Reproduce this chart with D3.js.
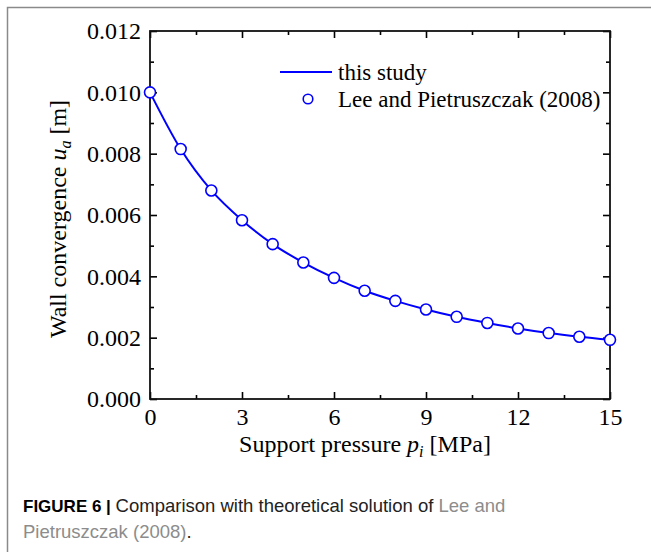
<!DOCTYPE html>
<html>
<head>
<meta charset="utf-8">
<script src="https://cdn.jsdelivr.net/npm/d3@7"></script>
<style>
  body { margin: 0; background: #fff; }
  svg { display: block; }
</style>
</head>
<body>
<div id="chart"></div>
<script>
// support pressure (MPa) and wall convergence (m)
const pressure = [0, 1, 2, 3, 4, 5, 6, 7, 8, 9, 10, 11, 12, 13, 14, 15];
const studyValues = [0.0100, 0.00815, 0.0068, 0.00583, 0.00505, 0.00445, 0.00395, 0.00353,
  0.0032, 0.00292, 0.00268, 0.00248, 0.0023, 0.00215, 0.00203, 0.00193];
const leeValues = [0.0100, 0.00815, 0.0068, 0.00583, 0.00505, 0.00445, 0.00395, 0.00353,
  0.0032, 0.00292, 0.00268, 0.00248, 0.0023, 0.00215, 0.00203, 0.00193];
const xTicks = [0, 3, 6, 9, 12, 15];
const yTicks = [0, 0.002, 0.004, 0.006, 0.008, 0.010, 0.012];
const legendLabels = ['this study', 'Lee and Pietruszczak (2008)'];

const width = 651, height = 552;
const plot = { left: 150, right: 610, top: 31, bottom: 399 };
const blue = '#0000ff';
const serif = '"Liberation Serif", "Times New Roman", serif';

const svg = d3.select('#chart').append('svg')
  .attr('width', width)
  .attr('height', height);

// figure frame (open at right/bottom like the cropped page)
svg.append('path')
  .attr('d', `M7.5,${height} V7.5 H${width}`)
  .attr('fill', 'none')
  .attr('stroke', '#8a8a8a')
  .attr('stroke-width', 1.5);

const x = d3.scaleLinear().domain([0, 15]).range([plot.left, plot.right]);
const y = d3.scaleLinear().domain([0, 0.012]).range([plot.bottom, plot.top]);

const tickLen = 7, minorLen = 4;
const xMinor = d3.range(1.5, 15, 3);
const yMinor = d3.range(0.001, 0.012, 0.002);

const axisStyle = g => {
  g.select('.domain').remove();
  g.selectAll('line').attr('stroke', '#000').attr('stroke-width', 1.6);
  g.selectAll('text').attr('font-family', serif).attr('font-size', 24).attr('fill', '#000');
};

// bottom axis
svg.append('g')
  .attr('transform', `translate(0,${plot.bottom})`)
  .call(d3.axisBottom(x).tickValues(xTicks).tickFormat(d3.format('d')).tickSizeInner(-tickLen).tickSizeOuter(0).tickPadding(9))
  .call(axisStyle);
svg.append('g')
  .attr('transform', `translate(0,${plot.bottom})`)
  .call(d3.axisBottom(x).tickValues(xMinor).tickFormat('').tickSizeInner(-minorLen).tickSizeOuter(0))
  .call(axisStyle);
// top axis
svg.append('g')
  .attr('transform', `translate(0,${plot.top})`)
  .call(d3.axisTop(x).tickValues(xTicks).tickFormat('').tickSizeInner(-tickLen).tickSizeOuter(0))
  .call(axisStyle);
svg.append('g')
  .attr('transform', `translate(0,${plot.top})`)
  .call(d3.axisTop(x).tickValues(xMinor).tickFormat('').tickSizeInner(-minorLen).tickSizeOuter(0))
  .call(axisStyle);
// left axis
svg.append('g')
  .attr('transform', `translate(${plot.left},0)`)
  .call(d3.axisLeft(y).tickValues(yTicks).tickFormat(d3.format('.3f')).tickSizeInner(-tickLen).tickSizeOuter(0).tickPadding(9))
  .call(axisStyle);
svg.append('g')
  .attr('transform', `translate(${plot.left},0)`)
  .call(d3.axisLeft(y).tickValues(yMinor).tickFormat('').tickSizeInner(-minorLen).tickSizeOuter(0))
  .call(axisStyle);
// right axis
svg.append('g')
  .attr('transform', `translate(${plot.right},0)`)
  .call(d3.axisRight(y).tickValues(yTicks).tickFormat('').tickSizeInner(-tickLen).tickSizeOuter(0))
  .call(axisStyle);
svg.append('g')
  .attr('transform', `translate(${plot.right},0)`)
  .call(d3.axisRight(y).tickValues(yMinor).tickFormat('').tickSizeInner(-minorLen).tickSizeOuter(0))
  .call(axisStyle);

// frame of plot
svg.append('rect')
  .attr('x', plot.left).attr('y', plot.top)
  .attr('width', plot.right - plot.left).attr('height', plot.bottom - plot.top)
  .attr('fill', 'none').attr('stroke', '#111').attr('stroke-width', 1.8);

// curve
const line = d3.line()
  .x((d, i) => x(pressure[i]))
  .y(d => y(d))
  .curve(d3.curveMonotoneX);

svg.append('path')
  .datum(studyValues)
  .attr('d', line)
  .attr('fill', 'none')
  .attr('stroke', blue)
  .attr('stroke-width', 2);

svg.append('g').selectAll('circle')
  .data(leeValues)
  .join('circle')
  .attr('cx', (d, i) => x(pressure[i]))
  .attr('cy', d => y(d))
  .attr('r', 5.5)
  .attr('fill', '#fff')
  .attr('stroke', blue)
  .attr('stroke-width', 1.6);

// legend
const legend = svg.append('g');
legend.append('line')
  .attr('x1', 280).attr('x2', 332).attr('y1', 72).attr('y2', 72)
  .attr('stroke', blue).attr('stroke-width', 2);
legend.append('text')
  .attr('x', 338).attr('y', 80)
  .attr('font-family', serif).attr('font-size', 23)
  .text(legendLabels[0]);
legend.append('circle')
  .attr('cx', 308).attr('cy', 99).attr('r', 4.8)
  .attr('fill', '#fff').attr('stroke', blue).attr('stroke-width', 1.6);
legend.append('text')
  .attr('x', 338).attr('y', 107)
  .attr('font-family', serif).attr('font-size', 23)
  .text(legendLabels[1]);

// axis titles
const xTitle = svg.append('text')
  .attr('x', 365).attr('y', 452)
  .attr('text-anchor', 'middle')
  .attr('font-family', serif).attr('font-size', 24);
xTitle.append('tspan').text('Support pressure ');
xTitle.append('tspan').attr('font-style', 'italic').text('p');
xTitle.append('tspan').attr('font-style', 'italic').attr('font-size', 16).attr('dy', 5).text('i');
xTitle.append('tspan').attr('dy', -5).text(' [MPa]');

const yTitle = svg.append('text')
  .attr('transform', 'translate(66,219) rotate(-90)')
  .attr('text-anchor', 'middle')
  .attr('font-family', serif).attr('font-size', 24);
yTitle.append('tspan').text('Wall convergence ');
yTitle.append('tspan').attr('font-style', 'italic').text('u');
yTitle.append('tspan').attr('font-style', 'italic').attr('font-size', 16).attr('dy', 5).text('a');
yTitle.append('tspan').attr('dy', -5).text(' [m]');

// caption
const sans = '"Liberation Sans", Arial, sans-serif';
const cap1 = svg.append('text')
  .attr('x', 23).attr('y', 512)
  .attr('font-family', sans).attr('font-size', 18.5).attr('fill', '#222');
cap1.append('tspan').attr('font-weight', 'bold').attr('font-size', 17).attr('fill', '#000').text('FIGURE 6 | ');
cap1.append('tspan').text('Comparison with theoretical solution of ');
cap1.append('tspan').attr('fill', '#8c8c8c').text('Lee and');
const cap2 = svg.append('text')
  .attr('x', 23).attr('y', 538)
  .attr('font-family', sans).attr('font-size', 18.5).attr('fill', '#222');
cap2.append('tspan').attr('fill', '#8c8c8c').text('Pietruszczak (2008)');
cap2.append('tspan').text('.');
</script>
</body>
</html>
